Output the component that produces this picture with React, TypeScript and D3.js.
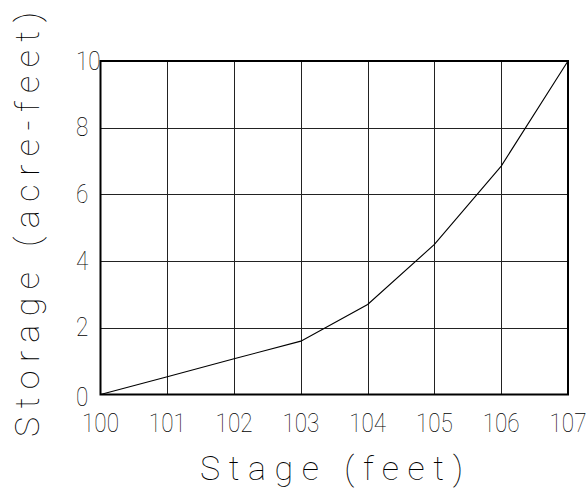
import React, { useEffect, useRef } from "react";
import * as d3 from "d3";

// Stage (feet) and storage (acre-feet)
const stage = [100, 101, 102, 103, 104, 105, 106, 107];
const storage = [0, 0.53, 1.07, 1.6, 2.7, 4.5, 6.85, 10];
const xTicks = [100, 101, 102, 103, 104, 105, 106, 107];
const yTicks = [0, 2, 4, 6, 8, 10];

const App = () => {
  const svgRef = useRef<SVGSVGElement | null>(null);

  useEffect(() => {
    const width = 588;
    const height = 489;
    const left = 100.5;
    const right = 568;
    const top = 61;
    const bottom = 394.5;
    const font = "Roboto, sans-serif";

    const x = d3.scaleLinear().domain([100, 107]).range([left, right]);
    const y = d3.scaleLinear().domain([0, 10]).range([bottom, top]);

    const svg = d3
      .select(svgRef.current)
      .attr("width", width)
      .attr("height", height)
      .attr("viewBox", [0, 0, width, height]);

    svg.selectAll("*").remove();

    svg.append("rect").attr("width", width).attr("height", height).attr("fill", "#fff");

    // grid
    svg
      .append("g")
      .selectAll("line")
      .data(xTicks.slice(1, -1))
      .join("line")
      .attr("x1", (d) => Math.round(x(d)) + 0.5)
      .attr("x2", (d) => Math.round(x(d)) + 0.5)
      .attr("y1", top)
      .attr("y2", bottom)
      .attr("stroke", "#222")
      .attr("stroke-width", 1);

    svg
      .append("g")
      .selectAll("line")
      .data(yTicks.slice(1, -1))
      .join("line")
      .attr("x1", left)
      .attr("x2", right)
      .attr("y1", (d) => Math.round(y(d)) + 0.5)
      .attr("y2", (d) => Math.round(y(d)) + 0.5)
      .attr("stroke", "#222")
      .attr("stroke-width", 1);

    // frame
    svg
      .append("rect")
      .attr("x", left)
      .attr("y", top)
      .attr("width", right - left)
      .attr("height", bottom - top)
      .attr("fill", "none")
      .attr("stroke", "#000")
      .attr("stroke-width", 2);

    // curve
    svg
      .append("path")
      .datum(stage.map((s, i) => [s, storage[i]] as [number, number]))
      .attr("fill", "none")
      .attr("stroke", "#000")
      .attr("stroke-width", 1.1)
      .attr(
        "d",
        d3
          .line<[number, number]>()
          .x((d) => x(d[0]))
          .y((d) => y(d[1]))
      );

    // x tick labels
    svg
      .append("g")
      .selectAll("text")
      .data(xTicks)
      .join("text")
      .attr("transform", (d) => `translate(${x(d)},432) scale(0.9,1)`)
      .attr("text-anchor", "middle")
      .attr("font-family", font)
      .attr("font-weight", 100)
      .attr("font-size", 25)
      .attr("fill", "#000")
      .text((d) => d);

    // y tick labels
    svg
      .append("g")
      .selectAll("text")
      .data(yTicks)
      .join("text")
      .attr("transform", (d) => `translate(76,${y(d) + (d === 0 ? 11 : 8.5)}) scale(0.9,1)`)
      .attr("text-anchor", "start")
      .attr("font-family", font)
      .attr("font-weight", 100)
      .attr("font-size", 25)
      .attr("fill", "#000")
      .text((d) => d);

    // axis titles
    svg
      .append("text")
      .attr("x", 200)
      .attr("y", 480)
      .attr("textLength", 263)
      .attr("lengthAdjust", "spacing")
      .attr("font-family", font)
      .attr("font-weight", 100)
      .attr("font-size", 34)
      .attr("fill", "#000")
      .text("Stage (feet)");

    svg
      .append("text")
      .attr("transform", "translate(39,437) rotate(-90)")
      .attr("textLength", 425)
      .attr("lengthAdjust", "spacing")
      .attr("font-family", font)
      .attr("font-weight", 100)
      .attr("font-size", 34)
      .attr("fill", "#000")
      .text("Storage (acre-feet)");
  }, []);

  return (
    <div id="app">
      <svg ref={svgRef} style={{ position: "absolute", left: 0, top: 0 }}></svg>
    </div>
  );
};

export default App;
